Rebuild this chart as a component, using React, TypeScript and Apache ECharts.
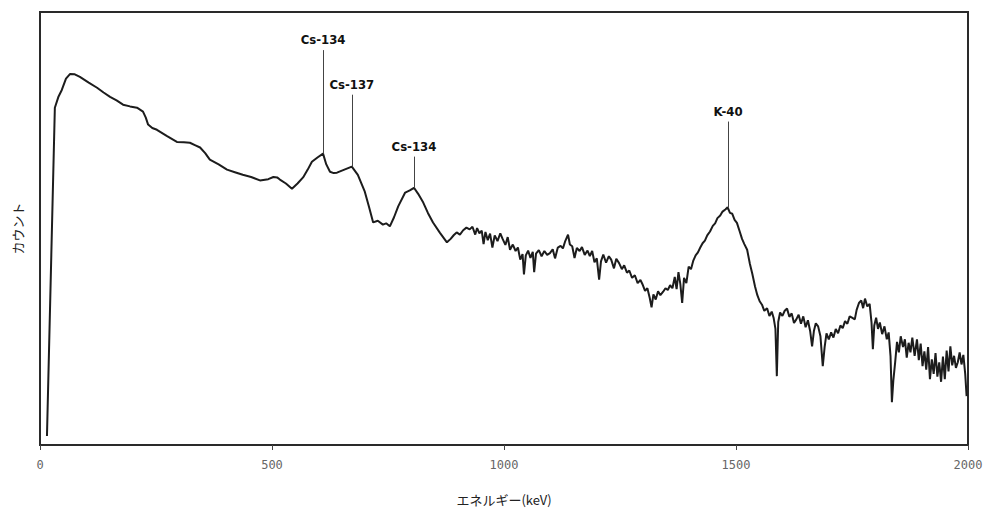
import React, { useEffect, useRef } from "react";
import * as echarts from "echarts";

// Spectrum points [energy keV, counts (arbitrary units 0-100)]
const spectrumLow: number[][] = [
  [15, 2.1], [32, 77.9], [40, 80.5], [47, 82.0], [56, 84.6], [65, 85.7], [75, 85.6], [86, 85.0],
  [105, 83.7], [123, 82.5], [137, 81.4], [151, 80.4], [165, 79.6], [179, 78.6], [194, 78.2],
  [209, 77.9], [222, 77.0], [228, 75.6], [233, 74.0], [242, 73.2], [252, 72.8], [273, 71.4],
  [295, 70.0], [310, 69.9], [323, 69.8], [335, 69.2], [345, 68.7], [356, 67.4], [366, 65.9],
  [385, 64.8], [403, 63.6], [420, 63.0], [437, 62.4], [455, 61.9], [474, 61.1], [492, 61.4],
  [503, 61.9], [511, 61.8], [517, 61.3], [530, 60.4], [543, 59.2], [555, 60.4], [567, 61.8],
  [577, 63.6], [586, 65.4], [598, 66.4], [610, 67.3], [617, 64.8], [625, 63.1], [633, 62.8],
  [640, 62.9], [656, 63.6], [672, 64.3], [685, 62.4], [700, 58.5], [709, 55.0], [718, 51.4],
  [728, 51.8], [739, 50.9], [746, 51.2], [754, 50.5], [763, 52.6], [772, 55.1], [787, 58.3],
  [797, 58.8], [806, 59.4], [815, 58.0], [825, 56.2], [836, 53.6], [847, 51.4], [862, 49.0],
  [877, 46.8],
];

const spectrumMid: number[][] = [
  [885, 47.6], [892, 48.5], [898, 49.1], [905, 48.6], [912, 49.6], [919, 50.2], [926, 49.8],
  [932, 50.4], [938, 48.6], [942, 50.1], [947, 48.9], [952, 49.5], [956, 46.4], [960, 49.2],
  [965, 47.3], [970, 48.8], [975, 45.6], [980, 48.4], [986, 47.1], [992, 48.9], [997, 47.6],
  [1003, 46.2], [1008, 48.0], [1013, 45.1], [1019, 46.3], [1025, 44.8], [1030, 45.6],
  [1035, 42.8], [1040, 44.1], [1043, 39.4], [1047, 43.8], [1052, 44.9], [1057, 43.2],
  [1062, 44.6], [1065, 39.9], [1069, 44.2], [1075, 45.0], [1081, 43.6], [1087, 44.8],
  [1093, 43.9], [1099, 44.3], [1105, 45.2], [1110, 43.1], [1116, 45.6], [1122, 46.0],
  [1127, 45.4], [1132, 47.1], [1138, 48.6], [1142, 46.3], [1147, 45.9], [1152, 43.2],
  [1157, 45.5], [1163, 44.8], [1168, 45.7], [1174, 43.9], [1180, 44.9], [1185, 43.6],
  [1190, 44.8], [1195, 42.2], [1200, 43.1], [1205, 38.2], [1209, 42.4], [1214, 44.0],
  [1220, 42.1], [1226, 43.6], [1231, 42.8], [1237, 40.8], [1242, 43.0], [1248, 42.0],
  [1254, 40.6], [1259, 41.5], [1265, 39.8], [1270, 40.3], [1276, 38.6], [1282, 39.2],
  [1288, 37.4], [1294, 38.1], [1299, 37.0], [1304, 35.6], [1309, 36.2], [1314, 34.0],
  [1318, 31.8], [1322, 34.8], [1327, 33.6], [1332, 35.5], [1337, 34.6], [1343, 35.4],
  [1348, 36.2], [1353, 35.8], [1358, 36.9], [1363, 36.2], [1368, 38.8], [1372, 36.0],
  [1376, 39.9], [1380, 37.2], [1384, 32.8], [1388, 38.6], [1393, 37.4], [1398, 41.2],
  [1403, 40.6], [1408, 42.6], [1413, 43.8], [1418, 44.5], [1423, 45.6], [1428, 46.6],
  [1433, 47.2], [1438, 48.4], [1444, 49.3], [1450, 50.6], [1455, 51.2], [1460, 52.4],
  [1466, 53.0], [1471, 53.9], [1477, 54.4], [1482, 54.9], [1487, 53.6], [1492, 53.4],
  [1497, 52.0], [1502, 51.3], [1508, 49.3], [1513, 47.6], [1518, 46.4], [1524, 45.1],
];

const spectrumHigh: number[][] = [
  [1530, 41.8], [1535, 39.6], [1541, 36.6], [1546, 34.6], [1551, 33.2], [1556, 32.4],
  [1561, 31.0], [1567, 31.6], [1572, 29.8], [1577, 30.8], [1581, 29.4], [1585, 26.8],
  [1588, 15.9], [1591, 28.4], [1595, 30.6], [1600, 29.8], [1605, 31.0], [1610, 31.5],
  [1615, 29.6], [1620, 30.4], [1625, 28.2], [1630, 29.0], [1635, 30.1], [1640, 28.0],
  [1645, 29.7], [1650, 27.2], [1655, 28.8], [1660, 26.2], [1664, 22.8], [1668, 26.4],
  [1672, 28.1], [1677, 27.4], [1682, 25.1], [1687, 18.2], [1691, 22.6], [1695, 25.8],
  [1700, 24.4], [1705, 26.0], [1710, 24.8], [1715, 26.8], [1720, 25.8], [1725, 27.6],
  [1730, 27.0], [1735, 28.6], [1740, 28.0], [1745, 29.7], [1750, 29.4], [1756, 29.0],
  [1760, 31.2], [1765, 32.8], [1770, 33.4], [1774, 31.6], [1778, 33.8], [1783, 32.0],
  [1788, 32.6], [1792, 28.4], [1795, 22.1], [1798, 27.6], [1802, 29.4], [1806, 26.8],
  [1810, 28.3], [1815, 25.6], [1820, 27.4], [1825, 24.4], [1829, 26.0], [1833, 20.6],
  [1836, 9.9], [1839, 14.8], [1843, 19.1], [1847, 23.8], [1851, 21.4], [1855, 25.1],
  [1860, 22.6], [1864, 24.4], [1868, 20.2], [1872, 23.6], [1876, 21.4], [1880, 24.8],
  [1885, 20.6], [1890, 24.4], [1894, 19.6], [1898, 23.4], [1902, 18.2], [1906, 21.6],
  [1910, 17.4], [1914, 22.6], [1918, 15.2], [1922, 19.8], [1926, 16.4], [1930, 21.2],
  [1934, 15.8], [1938, 19.1], [1942, 14.6], [1946, 20.4], [1950, 15.2], [1954, 21.8],
  [1958, 17.0], [1962, 22.8], [1966, 18.4], [1970, 20.6], [1974, 17.8], [1978, 19.1],
  [1982, 21.4], [1986, 18.6], [1990, 20.8], [1994, 16.4], [1997, 11.3],
];

// Peak annotations
const peakLabels = ["Cs-134", "Cs-137", "Cs-134", "K-40"];
const peakEnergies = [610, 672, 806, 1483];
const peakCounts = [67.3, 64.3, 59.4, 54.8];
const peakLineTops = [91.2, 80.9, 66.6, 74.7];

const xMin = 0;
const xMax = 2000;
const xInterval = 500;

export default function App() {
  const ref = useRef<HTMLDivElement>(null);

  useEffect(() => {
    if (!ref.current) return;
    const chart = echarts.init(ref.current, undefined, { renderer: "svg" });
    const spectrum = [...spectrumLow, ...spectrumMid, ...spectrumHigh];
    const markData = peakLabels.map((name, i) => [
      { name, coord: [peakEnergies[i], peakLineTops[i]] },
      { coord: [peakEnergies[i], peakCounts[i]] },
    ]);

    chart.setOption({
      animation: false,
      backgroundColor: "#ffffff",
      grid: {
        left: 40,
        right: 24,
        top: 12,
        bottom: 69,
        show: true,
        borderColor: "#2a2a2a",
        borderWidth: 2,
      },
      xAxis: {
        type: "value",
        min: xMin,
        max: xMax,
        interval: xInterval,
        name: "エネルギー(keV)",
        nameLocation: "middle",
        nameGap: 48,
        nameTextStyle: {
          fontFamily: "Noto Sans CJK JP",
          fontSize: 13,
          color: "#222",
        },
        axisLine: { show: true, lineStyle: { color: "#2a2a2a", width: 2 } },
        axisTick: { show: true, length: 5, lineStyle: { color: "#444", width: 1 } },
        axisLabel: {
          color: "#666",
          fontSize: 12,
          margin: 14,
          fontFamily: "DejaVu Sans Mono",
          formatter: (v: number) => String(v),
        },
        splitLine: { show: false },
      },
      yAxis: {
        type: "value",
        min: 0,
        max: 100,
        name: "カウント",
        nameLocation: "middle",
        nameGap: 16,
        nameRotate: 90,
        nameTextStyle: {
          fontFamily: "Noto Sans CJK JP",
          fontSize: 13,
          color: "#222",
        },
        axisLine: { show: true, lineStyle: { color: "#2a2a2a", width: 2 } },
        axisTick: { show: false },
        axisLabel: { show: false },
        splitLine: { show: false },
      },
      series: [
        {
          type: "line",
          data: spectrum,
          showSymbol: false,
          symbol: "none",
          lineStyle: { color: "#1c1c1c", width: 2 },
          silent: true,
          markLine: {
            silent: true,
            symbol: ["none", "none"],
            lineStyle: { color: "#444", width: 1, type: "solid" },
            label: {
              show: true,
              position: "start",
              formatter: "{b}",
              color: "#111",
              fontSize: 13,
              fontWeight: "bold",
              fontFamily: "Liberation Sans Narrow, DejaVu Sans Condensed, sans-serif",
              distance: 4,
            },
            data: markData,
          },
        },
      ],
    });

    return () => chart.dispose();
  }, []);

  return (
    <div
      ref={ref}
      style={{ position: "fixed", left: 0, top: 0, width: 992, height: 514 }}
    />
  );
}
